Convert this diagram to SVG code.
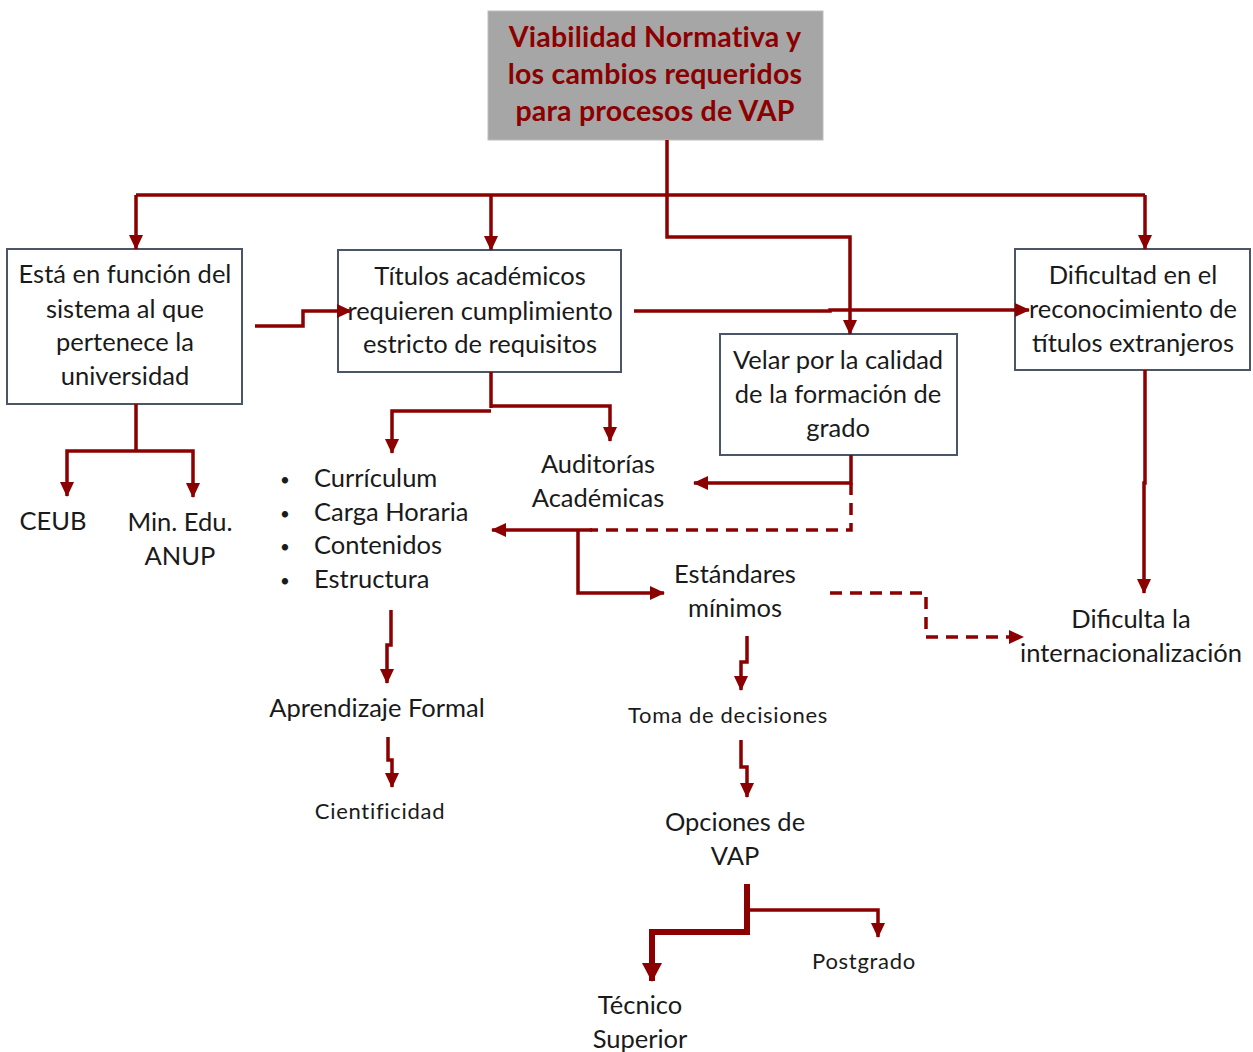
<svg xmlns="http://www.w3.org/2000/svg" width="1253" height="1052" viewBox="0 0 1253 1052">
  <style>
    .box { fill: #ffffff; stroke: #4a5568; stroke-width: 2; }
    .t { font-family: Lato, "Liberation Sans", sans-serif; font-size: 25.5px; fill: #1a1a1a; text-anchor: middle; }
    .s { font-size: 22px; letter-spacing: 0.7px; }
    .title { font-family: Lato, "Liberation Sans", sans-serif; font-size: 28.5px; font-weight: bold; fill: #8b0000; text-anchor: middle; letter-spacing: 0.2px; }
    .ln { fill: none; stroke: #8b0000; stroke-width: 3.5; }
    .arr { marker-end: url(#ah); }
    .dash { stroke-dasharray: 12 8; }
    .bul { font-size: 17px; text-anchor: middle; }
  </style>
  <defs>
    <marker id="ah" markerUnits="userSpaceOnUse" markerWidth="16" markerHeight="16" viewBox="0 0 16 16" refX="14" refY="8" orient="auto">
      <path d="M0,1 L15,8 L0,15 Z" fill="#8b0000"/>
    </marker>
    <marker id="ahBig" markerUnits="userSpaceOnUse" markerWidth="20" markerHeight="22" viewBox="0 0 20 22" refX="18" refY="11" orient="auto">
      <path d="M0,1 L19,11 L0,21 Z" fill="#8b0000"/>
    </marker>
  </defs>

  <!-- title node -->
  <g id="n-title">
    <rect x="488" y="11" width="335" height="129" fill="#a6a6a6" stroke="#bdbdbd" stroke-width="1"/>
    <text class="title" x="655" y="47">Viabilidad Normativa y</text>
    <text class="title" x="655" y="84">los cambios requeridos</text>
    <text class="title" x="655" y="121">para procesos de VAP</text>
  </g>

  <g id="n-funcion">
    <rect class="box" x="7" y="249" width="235" height="155"/>
    <text class="t" x="125" y="283">Está en función del</text>
    <text class="t" x="125" y="318">sistema al que</text>
    <text class="t" x="125" y="351">pertenece la</text>
    <text class="t" x="125" y="385">universidad</text>
  </g>

  <g id="n-titulos">
    <rect class="box" x="338" y="250" width="283" height="122"/>
    <text class="t" x="480" y="285">Títulos académicos</text>
    <text class="t" x="480" y="320">requieren cumplimiento</text>
    <text class="t" x="480" y="353">estricto de requisitos</text>
  </g>

  <g id="n-velar">
    <rect class="box" x="720" y="334" width="237" height="121"/>
    <text class="t" x="838" y="369">Velar por la calidad</text>
    <text class="t" x="838" y="403">de la formación de</text>
    <text class="t" x="838" y="437">grado</text>
  </g>

  <g id="n-dificultad">
    <rect class="box" x="1015" y="249" width="235" height="121"/>
    <text class="t" x="1133" y="284">Dificultad en el</text>
    <text class="t" x="1133" y="318">reconocimiento de</text>
    <text class="t" x="1133" y="352">títulos extranjeros</text>
  </g>

  <g id="n-ceub">
    <text class="t" x="53" y="530">CEUB</text>
  </g>

  <g id="n-min">
    <text class="t" x="180" y="531">Min. Edu.</text>
    <text class="t" x="180" y="565">ANUP</text>
  </g>

  <g id="n-lista">
    <g class="t" style="text-anchor:start">
      <text class="bul" x="285" y="486">•</text>
      <text x="314" y="487">Currículum</text>
      <text class="bul" x="285" y="520">•</text>
      <text x="314" y="521">Carga Horaria</text>
      <text class="bul" x="285" y="553">•</text>
      <text x="314" y="554">Contenidos</text>
      <text class="bul" x="285" y="587">•</text>
      <text x="314" y="588">Estructura</text>
    </g>
  </g>

  <g id="n-auditorias">
    <text class="t" x="598" y="473">Auditorías</text>
    <text class="t" x="598" y="507">Académicas</text>
  </g>

  <g id="n-estandares">
    <text class="t" x="735" y="583">Estándares</text>
    <text class="t" x="735" y="617">mínimos</text>
  </g>

  <g id="n-dificulta">
    <text class="t" x="1131" y="628">Dificulta la</text>
    <text class="t" x="1131" y="662">internacionalización</text>
  </g>

  <g id="n-aprendizaje">
    <text class="t" x="377" y="717">Aprendizaje Formal</text>
  </g>

  <g id="n-cientificidad">
    <text class="t s" x="380" y="819">Cientificidad</text>
  </g>

  <g id="n-toma">
    <text class="t s" x="728" y="723">Toma de decisiones</text>
  </g>

  <g id="n-opciones">
    <text class="t" x="735" y="831">Opciones de</text>
    <text class="t" x="735" y="865">VAP</text>
  </g>

  <g id="n-postgrado">
    <text class="t s" x="864" y="969">Postgrado</text>
  </g>

  <g id="n-tecnico">
    <text class="t" x="640" y="1014">Técnico</text>
    <text class="t" x="640" y="1048">Superior</text>
  </g>

  <!-- connectors, drawn last so arrowheads sit on top of the boxes -->
  <g id="connectors">
    <path class="ln" d="M667,140 V195"/>
    <path class="ln" d="M136,195 H1145"/>
    <path class="ln arr" d="M136,195 V249"/>
    <path class="ln arr" d="M491,195 V250"/>
    <path class="ln arr" d="M1145,195 V249"/>
    <path class="ln arr" d="M667,195 V237 H850 V334"/>
    <path class="ln arr" d="M255,326 H303 V311 H351"/>
    <path class="ln arr" d="M634,311 H830 V310 H1029"/>
    <path class="ln" d="M136,404 V451"/>
    <path class="ln arr" d="M136,451 H67 V496"/>
    <path class="ln arr" d="M136,451 H193 V497"/>
    <path class="ln" d="M491,372 V408"/>
    <path class="ln arr" d="M491,411 H392 V453"/>
    <path class="ln arr" d="M491,406 H610 V441"/>
    <path class="ln arr" d="M851,455 V483 H694"/>
    <path class="ln dash" d="M851,483 V530 H590"/>
    <path class="ln arr" d="M592,530 H492"/>
    <path class="ln arr" d="M578,530 V593 H664"/>
    <path class="ln dash arr" d="M830,593 H926 V637 H1023"/>
    <path class="ln arr" d="M1145,370 V483 H1144 V593"/>
    <path class="ln arr" d="M391,610 V645 H387 V683"/>
    <path class="ln arr" d="M388,737 V760 H392 V787"/>
    <path class="ln arr" d="M747,636 V662 H741 V690"/>
    <path class="ln arr" d="M741,740 V767 H747 V797"/>
    <path class="ln" style="stroke-width:6" d="M747,884 V932 H652 V960"/>
    <path class="ln" style="stroke-width:6; marker-end:url(#ahBig)" d="M652,955 V981"/>
    <path class="ln arr" d="M747,910 H878 V937"/>
  </g>
</svg>
